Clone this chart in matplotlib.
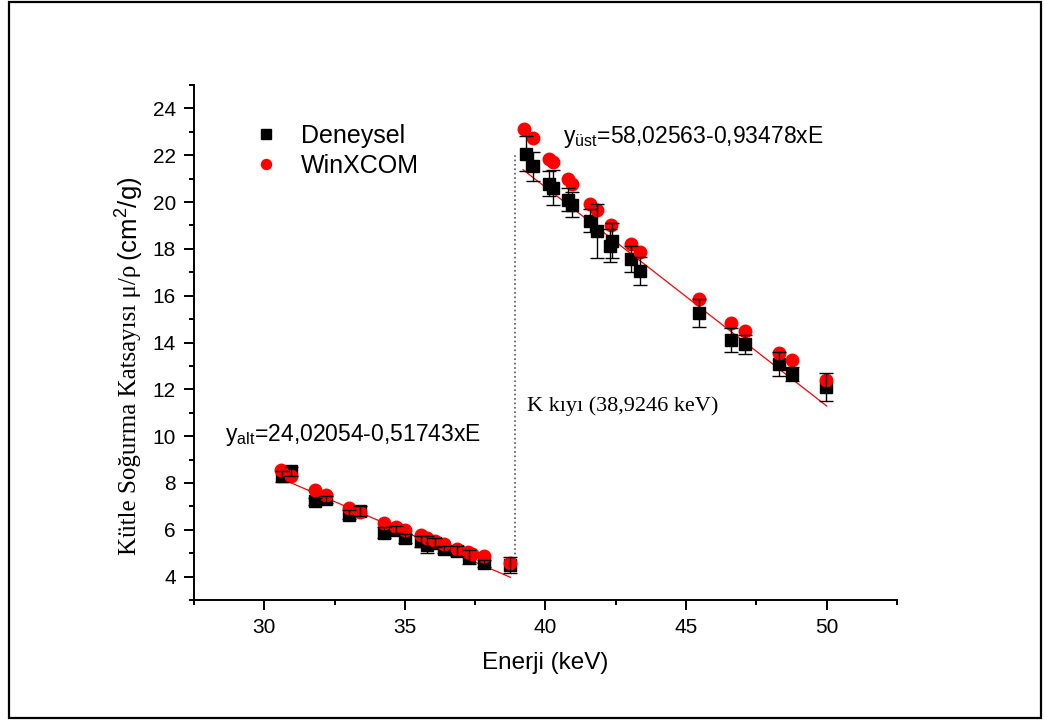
import numpy as np
import matplotlib
matplotlib.use('Agg')
import matplotlib.pyplot as plt
from matplotlib.ticker import MultipleLocator
from matplotlib.patches import Rectangle

plt.rcParams['font.family'] = ['Liberation Sans', 'DejaVu Sans']
plt.rcParams['mathtext.fontset'] = 'custom'
plt.rcParams['mathtext.rm'] = 'Liberation Sans'
plt.rcParams['mathtext.it'] = 'Liberation Sans:italic'

# Deneysel (olculen) degerler
x_dey = [30.64, 30.96, 31.8, 32.2, 33.0, 33.4, 34.25, 34.7, 35.0, 35.57, 35.8, 36.07,
         36.4, 36.86, 37.28, 37.82, 38.75,
         39.29, 39.57, 40.14, 40.28, 40.79, 40.96, 41.57, 41.82, 42.28, 42.36, 43.04,
         43.36, 45.46, 46.6, 47.1, 48.3, 48.75, 49.97]
y_dey = [8.28, 8.5, 7.21, 7.3, 6.65, 6.8, 5.88, 6.0, 5.63, 5.5, 5.37, 5.45,
         5.16, 5.1, 4.85, 4.56, 4.5,
         22.07, 21.52, 20.79, 20.62, 20.1, 19.89, 19.2, 18.78, 18.13, 18.35, 17.58,
         17.06, 15.26, 14.1, 13.93, 13.08, 12.65, 12.09]
err_dey = [0.25, 0.2, 0.15, 0.15, 0.2, 0.2, 0.25, 0.15, 0.2, 0.25, 0.35, 0.2,
           0.15, 0.2, 0.3, 0.15, 0.35,
           0.75, 0.6, 0.55, 0.75, 0.5, 0.55, 0.5, 1.15, 0.7, 0.75, 0.55,
           0.6, 0.6, 0.5, 0.4, 0.5, 0.3, 0.6]

# WinXCOM degerleri
x_win = [30.6, 30.96, 31.8, 32.2, 33.0, 33.4, 34.25, 34.7, 35.0, 35.57, 35.8, 36.07,
         36.4, 36.86, 37.25, 37.4, 37.82, 38.75,
         39.25, 39.57, 40.14, 40.28, 40.79, 40.96, 41.57, 41.82, 42.32, 43.04, 43.36,
         45.46, 46.6, 47.1, 48.3, 48.75, 49.97]
y_win = [8.54, 8.28, 7.68, 7.47, 6.95, 6.74, 6.31, 6.1, 5.97, 5.76, 5.63, 5.54,
         5.41, 5.2, 5.07, 4.98, 4.9, 4.56,
         23.14, 22.72, 21.86, 21.69, 21.0, 20.75, 19.93, 19.67, 19.03, 18.22, 17.88,
         15.86, 14.83, 14.49, 13.55, 13.25, 12.39]

# fit dogrulari: y = a - b*E
fit_alt = [24.02054, 0.51743]
fit_ust = [58.02563, 0.93478]
range_alt = [30.6, 38.75]
range_ust = [39.2, 50.0]
k_edge = 38.9246

fig = plt.figure(figsize=(10.45, 7.2), dpi=100)
ax = fig.add_axes([194/1045, 120/720, 703/1045, 515/720])

ax.plot(x_dey, y_dey, 's', color='black', ms=8.5, label='Deneysel', zorder=3)
ax.plot(x_win, y_win, 'o', color='red', ms=9, label='WinXCOM', zorder=4)
ax.errorbar(x_dey, y_dey, yerr=err_dey, fmt='none', ecolor='black',
            elinewidth=1, capsize=5, capthick=1, zorder=5)

xa = np.array(range_alt)
ax.plot(xa, fit_alt[0] - fit_alt[1]*xa, color='red', lw=0.9, zorder=2)
xu = np.array(range_ust)
ax.plot(xu, fit_ust[0] - fit_ust[1]*xu, color='red', lw=0.9, zorder=2)

ax.plot([k_edge, k_edge], [4.2, 22.1], ls=':', color='#555555', lw=1.2, zorder=1)

ax.text(28.6, 9.78, 'y$_{\\rm alt}$=24,02054-0,51743xE', fontsize=16.5)
ax.text(40.62, 22.54, 'y$_{\\rm üst}$=58,02563-0,93478xE', fontsize=16.5)
ax.text(39.34, 11.07, 'K kıyı (38,9246 keV)', family='Liberation Serif', fontsize=16)

ax.set_xlim(27.5, 52.5)
ax.set_ylim(3, 25)
ax.xaxis.set_major_locator(MultipleLocator(5))
ax.xaxis.set_minor_locator(MultipleLocator(2.5))
ax.yaxis.set_major_locator(MultipleLocator(2))
ax.yaxis.set_minor_locator(MultipleLocator(1))
for s in ['top', 'right']:
    ax.spines[s].set_visible(False)
for s in ['left', 'bottom']:
    ax.spines[s].set_linewidth(1.4)
ax.tick_params(which='major', direction='out', length=7, width=1.4, labelsize=15, pad=6)
ax.tick_params(which='minor', direction='out', length=3.5, width=1.4)

ax.set_xlabel('Enerji (keV)', fontsize=17.5, labelpad=11)

leg = ax.legend(loc='upper left', bbox_to_anchor=(0.053, 0.968), frameon=False,
                fontsize=18, handlelength=1, handletextpad=0.9, labelspacing=0.25,
                numpoints=1, markerscale=0.8)

# y ekseni etiketi: serif kisim + sans kisim
t1 = fig.text(130/1045, 1 - 555/720, 'Kütle Soğurma Katsayısı μ/ρ ', rotation=90,
              ha='center', va='bottom', family='Liberation Serif', fontsize=18)
fig.canvas.draw()
bb = t1.get_window_extent()
fig.text(130/1045, bb.y1/720 - 0.003, '(cm$^{\\rm 2}$/g)', rotation=90,
         ha='center', va='bottom', fontsize=18.5)

fig.add_artist(Rectangle((9/1045, 2/720), 1032/1045, 716/720, transform=fig.transFigure,
                         fill=False, ec='black', lw=1.6))

fig.savefig('out.png', dpi=100)
